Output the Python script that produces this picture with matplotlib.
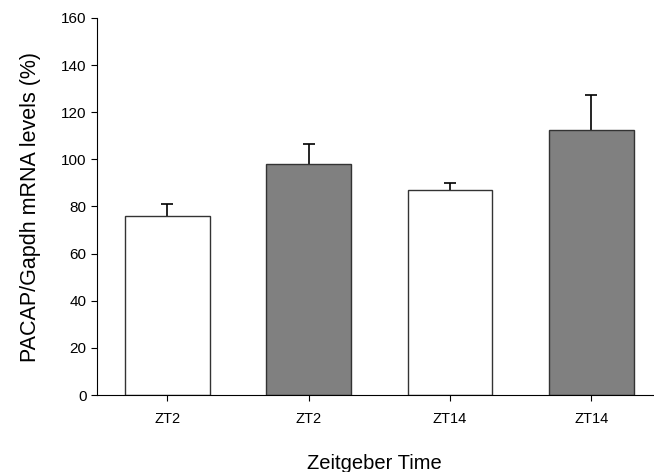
import matplotlib.pyplot as plt
import numpy as np

plt.rcParams['font.family'] = ['Liberation Sans', 'DejaVu Sans']

labels = ["ZT2", "ZT2", "ZT14", "ZT14"]
values = [75.8, 98.2, 86.9, 112.3]
errors = [5.2, 8.3, 3.1, 14.8]
colors = ["white", "#808080", "white", "#808080"]

fig = plt.figure(figsize=(6.54, 4.72), dpi=100)
ax = fig.add_axes([0.148, 0.163, 0.85, 0.799])

x = np.arange(len(values))
ax.bar(x, values, width=0.6, color=colors, edgecolor="#333333", linewidth=1.0, zorder=2)

# upper error bars only
_, caps, _ = ax.errorbar(x, values, yerr=[np.zeros(len(errors)), errors], fmt='none',
                         ecolor="black", elinewidth=1.2, capsize=4, capthick=1.2, zorder=1)
caps[0].set_visible(False)

ax.set_xlim(-0.5, 3.435)
ax.set_ylim(0, 160)
ax.set_yticks(np.arange(0, 161, 20))
ax.set_xticks(x)
ax.set_xticklabels(labels, fontsize=10.5)
ax.tick_params(axis='y', labelsize=11, length=4, direction='out')
ax.tick_params(axis='x', length=4, direction='out', pad=8)

ax.spines['top'].set_visible(False)
ax.spines['right'].set_visible(False)

ax.set_ylabel("PACAP/Gapdh mRNA levels (%)", fontsize=15.5, labelpad=14)
ax.set_xlabel("Zeitgeber Time", fontsize=14.5, labelpad=20)

fig.savefig("out.png", dpi=100)
